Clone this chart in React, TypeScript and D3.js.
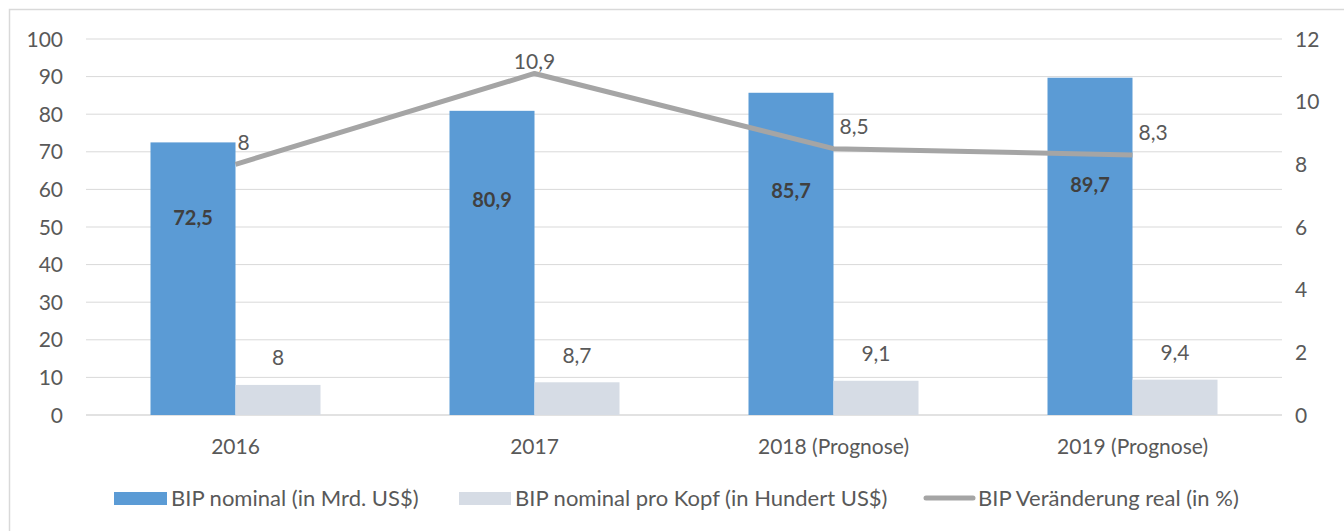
import React from "react";
import * as d3 from "d3";

const categories = ["2016", "2017", "2018 (Prognose)", "2019 (Prognose)"];
const bipNominal = [72.5, 80.9, 85.7, 89.7];
const bipProKopf = [8, 8.7, 9.1, 9.4];
const bipVeraenderung = [8, 10.9, 8.5, 8.3];
const leftTicks = [0, 10, 20, 30, 40, 50, 60, 70, 80, 90, 100];
const rightTicks = [0, 2, 4, 6, 8, 10, 12];
const seriesNames = [
  "BIP nominal (in Mrd. US$)",
  "BIP nominal pro Kopf (in Hundert US$)",
  "BIP Veränderung real (in %)",
];
// vertical anchor (in left-axis units) where the bold labels inside the blue bars sit
const nominalLabelAnchor = [52.4, 57.2, 59.6, 61.2];

const W = 1344;
const H = 531;
const FONT = "Lato, 'Open Sans', sans-serif";
const TEXT = "#595959";
const BLUE = "#5B9BD5";
const LIGHT = "#D6DCE5";
const GRAY = "#A5A5A5";
const fmt = (v: number) => String(v).replace(".", ",");

export default function App() {
  const left = 86;
  const right = 1282;
  const top = 39;
  const bottom = 415;

  const x = d3.scaleBand<string>().domain(categories).range([left, right]);
  const y = d3.scaleLinear().domain([0, 100]).range([bottom, top]);
  const y2 = d3.scaleLinear().domain([0, 12]).range([bottom, top]);
  const barW = 85;
  const cx = (c: string) => (x(c) as number) + x.bandwidth() / 2;

  const line = d3
    .line<number>()
    .x((_, i) => cx(categories[i]))
    .y((d) => y2(d));

  const fs = 21;

  return (
    <svg
      width={W}
      height={H}
      style={{ position: "absolute", left: 0, top: 0, background: "#fff" }}
      fontFamily={FONT}
    >
      <rect x={9.5} y={9.5} width={W + 20} height={H + 20} fill="#fff" stroke="#D9D9D9" strokeWidth={1.5} />
      {leftTicks.map((t) => (
        <g key={"l" + t}>
          <line x1={left} x2={right} y1={y(t)} y2={y(t)} stroke="#D9D9D9" strokeWidth={t === 0 ? 1.5 : 1} />
          <text x={63} y={y(t)} dy="0.36em" textAnchor="end" fontSize={fs} fill={TEXT}>
            {t}
          </text>
        </g>
      ))}
      {rightTicks.map((t) => (
        <text key={"r" + t} x={1295} y={y2(t)} dy="0.36em" textAnchor="start" fontSize={fs} fill={TEXT}>
          {t}
        </text>
      ))}
      {categories.map((c, i) => (
        <g key={c}>
          <rect x={cx(c) - barW} y={y(bipNominal[i])} width={barW} height={bottom - y(bipNominal[i])} fill={BLUE} />
          <rect x={cx(c)} y={y(bipProKopf[i])} width={barW} height={bottom - y(bipProKopf[i])} fill={LIGHT} />
          <text x={cx(c) - barW / 2} y={y(nominalLabelAnchor[i])} dy="0.36em" textAnchor="middle" fontSize={20} fontWeight="bold" fill="#404040">
            {fmt(bipNominal[i])}
          </text>
          <text x={cx(c) + barW / 2} y={y(bipProKopf[i]) - 27} dy="0.36em" textAnchor="middle" fontSize={fs} fill={TEXT}>
            {fmt(bipProKopf[i])}
          </text>
          <text x={cx(c)} y={446} dy="0.36em" textAnchor="middle" fontSize={fs} fill={TEXT}>
            {c}
          </text>
        </g>
      ))}
      <path d={line(bipVeraenderung) as string} fill="none" stroke={GRAY} strokeWidth={5} strokeLinejoin="round" />
      {categories.map((c, i) => {
        const peak = i === 1;
        return (
          <text
            key={"lv" + c}
            x={peak ? cx(c) : cx(c) + (i === 0 ? 2 : 6)}
            y={y2(bipVeraenderung[i]) - (peak ? 12 : 22)}
            dy="0.36em"
            textAnchor={peak ? "middle" : "start"}
            fontSize={fs}
            fill={TEXT}
          >
            {fmt(bipVeraenderung[i])}
          </text>
        );
      })}
      {/* legend */}
      <g fontSize={22} fill={TEXT}>
        <rect x={114} y={492} width={53} height={13} fill={BLUE} />
        <text x={171} y={498} dy="0.36em">{seriesNames[0]}</text>
        <rect x={459} y={492} width={52} height={13} fill={LIGHT} />
        <text x={515} y={498} dy="0.36em">{seriesNames[1]}</text>
        <line x1={926} x2={973} y1={498} y2={498} stroke={GRAY} strokeWidth={5} strokeLinecap="round" />
        <text x={978} y={498} dy="0.36em">{seriesNames[2]}</text>
      </g>
    </svg>
  );
}
